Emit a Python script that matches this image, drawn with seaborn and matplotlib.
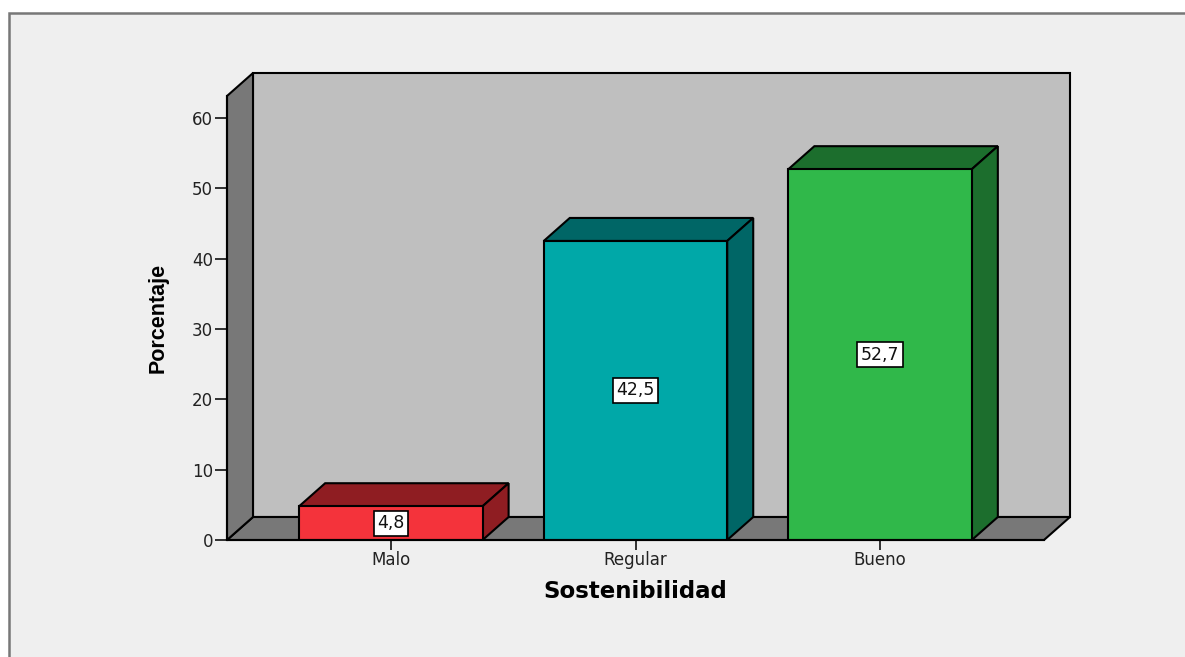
import matplotlib
matplotlib.use("Agg")
import matplotlib.pyplot as plt
from matplotlib.patches import Polygon, Rectangle
import pandas as pd
import seaborn as sns

categories = ["Malo", "Regular", "Bueno"]
values = [4.8, 42.5, 52.7]
value_labels = ["4,8", "42,5", "52,7"]
y_ticks = [0, 10, 20, 30, 40, 50, 60]

front_colors = ["#F4333B", "#00A8A8", "#30B84A"]
dark_colors = ["#8F1D22", "#006666", "#1C6E2D"]

W, H = 1185, 657

sns.set_theme(style="ticks")
plt.rcParams["font.family"] = ["DejaVu Sans"]

df = pd.DataFrame({"Sostenibilidad": categories, "Porcentaje": values})

fig = plt.figure(figsize=(W / 100, H / 100), dpi=100, facecolor="white")

# grey panel behind the chart
fig.patches.append(Rectangle((9 / W, -0.01), 1.01, 1.01 - 12.5 / H, transform=fig.transFigure,
                             facecolor="#EFEFEF", edgecolor="#777777", linewidth=1.8, zorder=-1))

ax = fig.add_axes([227 / W, (H - 540) / H, 817 / W, 444 / H])
ax.patch.set_visible(False)

sns.barplot(data=df, x="Sostenibilidad", y="Porcentaje", hue="Sostenibilidad",
            palette=front_colors, width=0.75, edgecolor="black", linewidth=1.5,
            saturation=1, legend=False, ax=ax, zorder=4)

xmin, xmax = -0.67, 2.67
ymin, ymax = 0, 63.1
ax.set_xlim(xmin, xmax)
ax.set_ylim(ymin, ymax)

# 3d depth, in data units
dx = 26 / (817 / (xmax - xmin))
dy = 23 / (444 / (ymax - ymin))


def add_poly(points, color, z):
    ax.add_patch(Polygon(points, closed=True, facecolor=color, edgecolor="black",
                         linewidth=1.5, joinstyle="miter", clip_on=False, zorder=z))


# back wall, floor, side wall
add_poly([(xmin + dx, dy), (xmax + dx, dy), (xmax + dx, ymax + dy), (xmin + dx, ymax + dy)], "#BFBFBF", 1)
add_poly([(xmin, 0), (xmax, 0), (xmax + dx, dy), (xmin + dx, dy)], "#787878", 1.5)
add_poly([(xmin, 0), (xmin + dx, dy), (xmin + dx, ymax + dy), (xmin, ymax)], "#787878", 1.6)

for bar, dark, label in zip(ax.patches[:3], dark_colors, value_labels):
    x0 = bar.get_x()
    x1 = x0 + bar.get_width()
    h = bar.get_height()
    add_poly([(x0, h), (x1, h), (x1 + dx, h + dy), (x0 + dx, h + dy)], dark, 3)
    add_poly([(x1, 0), (x1 + dx, dy), (x1 + dx, h + dy), (x1, h)], dark, 3)
    ax.text(x0 + bar.get_width() / 2, h / 2, label, ha="center", va="center", fontsize=12.5,
            color="#111111", zorder=6,
            bbox=dict(boxstyle="square,pad=0.2", facecolor="white", edgecolor="black", linewidth=1.2))

sns.despine(ax=ax, top=True, right=True)
ax.spines["left"].set_linewidth(1.5)
ax.spines["bottom"].set_linewidth(1.5)
ax.spines["left"].set_color("black")
ax.spines["bottom"].set_color("black")
ax.spines["left"].set_zorder(5)
ax.spines["bottom"].set_zorder(5)

ax.set_yticks(y_ticks)
ax.tick_params(axis="y", length=9, width=1.3, color="#222222", labelsize=12, labelcolor="#222222", pad=1)
ax.tick_params(axis="x", length=7, width=1.3, color="#222222", labelsize=12, labelcolor="#222222", pad=1)

ax.set_xlabel("")
ax.set_ylabel("")
fig.text(635 / W, 1 - 592 / H, "Sostenibilidad", ha="center", va="center",
         fontsize=16.5, fontweight="bold", color="black")
fig.text(158 / W, 1 - 318 / H, "Porcentaje", ha="center", va="center", rotation=90,
         fontsize=15.5, fontweight="bold", color="black", family="Liberation Sans")

plt.savefig("out.png", dpi=100)
plt.close()
